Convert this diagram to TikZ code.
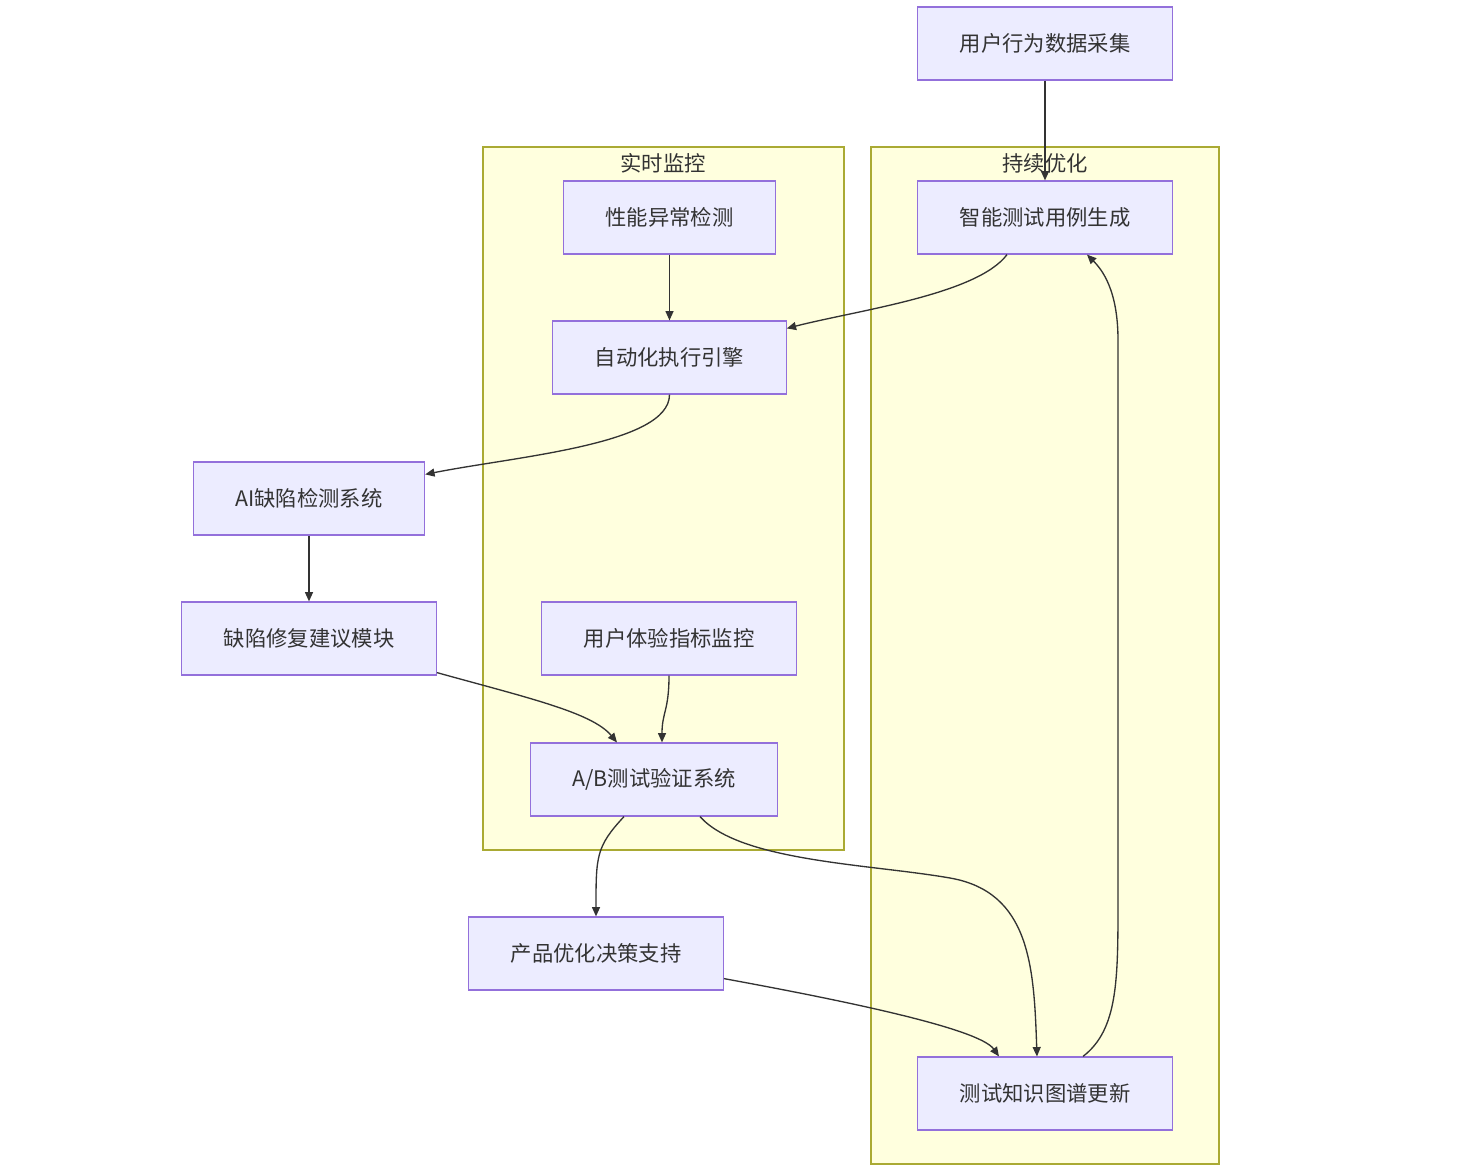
\documentclass[tikz,border=0pt]{standalone}
\usepackage{fontspec}
\setmainfont{Noto Sans CJK SC}
\usetikzlibrary{calc, positioning}
\usetikzlibrary{arrows.meta}
\definecolor{boxfill}{HTML}{ECECFF}
\definecolor{boxline}{HTML}{9370DB}
\definecolor{grpfill}{HTML}{FFFFDE}
\definecolor{grpline}{HTML}{AAAA33}
\definecolor{inkgray}{HTML}{333333}

\begin{document}
\begin{tikzpicture}[x=0.75pt, y=-0.75pt,
		box/.style={draw=boxline, fill=boxfill, line width=0.9pt, inner xsep=31.5pt, minimum height=54.75pt, text=inkgray, font=\fontsize{16}{19}\selectfont},
		group/.style={draw=grpline, fill=grpfill, line width=0.8pt},
		grplabel/.style={text=inkgray, font=\fontsize{16}{19}\selectfont},
		link/.style={draw=inkgray, line width=1pt, -{Triangle[length=7pt,width=6pt]}}]
	\useasboundingbox (0,0) rectangle (1479,1172);
	% groups
	\draw[group] (483,147) rectangle (844,850);
	\draw[group] (871,147) rectangle (1219,1164);
	\node[grplabel] (lblmon) at (663,163) {实时监控};
	\node[grplabel] (lblopt) at (1045,163) {持续优化};
	% nodes
	\node[box] (collect) at (1045,43.5) {用户行为数据采集};
	\node[box] (smart) at (1045,217.5) {智能测试用例生成};
	\node[box] (perf) at (669.5,217.5) {性能异常检测};
	\node[box] (auto) at (669.5,357.5) {自动化执行引擎};
	\node[box] (ai) at (309,498.5) {AI缺陷检测系统};
	\node[box] (fix) at (309,638.5) {缺陷修复建议模块};
	\node[box] (ux) at (669,638.5) {用户体验指标监控};
	\node[box] (ab) at (654,779.5) {A/B测试验证系统};
	\node[box] (prod) at (596,953.5) {产品优化决策支持};
	\node[box] (kg) at (1045,1093.5) {测试知识图谱更新};
	% links
	\draw[link] (collect.south) -- (smart.north);
	\draw[link] ($(smart.south)+(-38,0)$) .. controls +(-30,40) and +(70,-18) .. ($(auto.north east)+(0,8)$);
	\draw[link] (perf.south) -- (auto.north);
	\draw[link] (auto.south) .. controls +(0,50) and +(90,-18) .. ($(ai.north east)+(0,13)$);
	\draw[link] (ai.south) -- (fix.north);
	\draw[link] ($(fix.south east)+(0,-3)$) .. controls +(90,25) and +(-25,-30) .. ($(ab.north)+(-37,0)$);
	\draw[link] (ux.south) .. controls +(0,35) and +(0,-30) .. ($(ab.north)+(8,0)$);
	\draw[link] ($(ab.south)+(-30,0)$) .. controls +(-28,30) and +(0,-60) .. (prod.north);
	\draw[link] ($(ab.south)+(46,0)$) .. controls +(40,45) and +(-80,-14) .. (950,878) .. controls +(80,14) and +(-3,-90) .. ($(kg.north)+(-8,0)$);
	\draw[link] ($(prod.south east)+(0,-12)$) .. controls +(120,22) and +(-20,-28) .. ($(kg.north)+(-46,0)$);
	\draw[link] ($(kg.north)+(38,0)$) .. controls +(35,-27) and +(0,80) .. (1118,900) -- (1118,340) .. controls +(0,-50) and +(15,15) .. ($(smart.south)+(42,0)$);
\end{tikzpicture}
\end{document}
